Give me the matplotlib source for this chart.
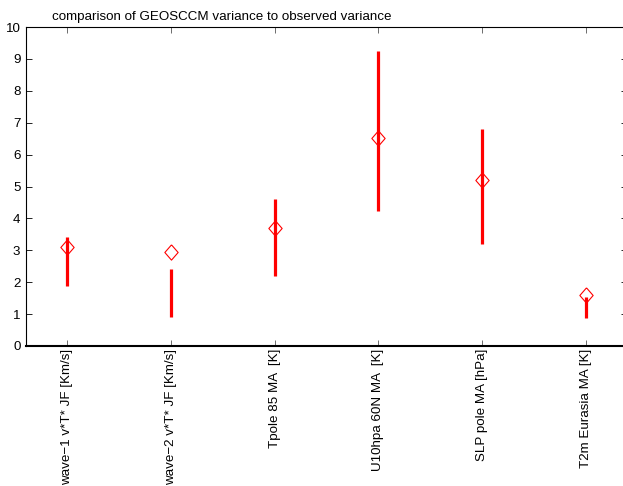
import matplotlib
matplotlib.use("Agg")
import matplotlib.pyplot as plt
import numpy as np

plt.rcParams["font.family"] = ["Liberation Sans", "DejaVu Sans"]

# --- data ---
labels = [
    "wave\u22121 v*T* JF [Km/s]",
    "wave\u22122 v*T* JF [Km/s]",
    "Tpole 85 MA  [K]",
    "U10hpa 60N MA  [K]",
    "SLP pole MA [hPa]",
    "T2m Eurasia MA [K]",
]
ratio = [3.09, 2.96, 3.69, 6.51, 5.19, 1.60]
range_lo = [1.89, 0.92, 2.19, 4.24, 3.20, 0.89]
range_hi = [3.41, 2.41, 4.60, 9.26, 6.80, 1.55]

x = np.arange(1, len(labels) + 1)

fig = plt.figure(figsize=(6.23, 4.86), dpi=100)
# axes extends slightly past the right edge, like the original
ax = fig.add_axes([26 / 623, 140 / 486, 601 / 623, 319 / 486])

# --- vertical range bars ---
ax.vlines(x, range_lo, range_hi, color="#ff0000", linewidth=2.3, zorder=2)

# --- diamond markers (open) ---
diamond = [(0, 1), (0.87, 0), (0, -1), (-0.87, 0), (0, 1)]
ax.plot(x, ratio, linestyle="none", marker=diamond, markersize=11,
        markerfacecolor="none", markeredgecolor="#ff0000",
        markeredgewidth=0.8, zorder=3)

# --- axis setup ---
ax.set_xlim(0.6, 6.4)
ax.set_ylim(0, 10)
ax.set_yticks(np.arange(0, 11, 1))
ax.set_xticks(x)
ax.set_xticklabels(labels, rotation=90, ha="center", va="top", fontsize=9.6)
ax.tick_params(axis="y", direction="in", left=True, right=True,
               length=4, width=0.6, labelsize=9.6, pad=4)
ax.tick_params(axis="x", direction="in", bottom=True, top=True,
               length=4, width=0.6, pad=2, color="#555555")
for side in ("left", "top", "right"):
    ax.spines[side].set_linewidth(0.8)
ax.spines["bottom"].set_linewidth(1.5)

fig.text(52 / 623, 1 - 20 / 486,
         "comparison of GEOSCCM variance to observed variance",
         fontsize=9.6, ha="left", va="baseline")

fig.savefig("out.png", dpi=100)
